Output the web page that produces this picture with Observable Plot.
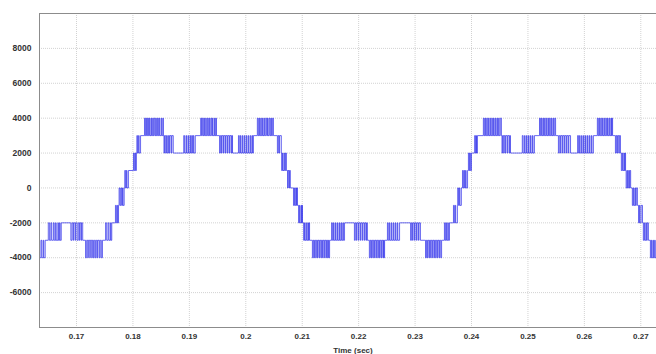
<!DOCTYPE html>
<html><head><meta charset="utf-8">
<script src="https://cdn.jsdelivr.net/npm/d3@7"></script>
<script src="https://cdn.jsdelivr.net/npm/@observablehq/plot@0.6"></script>
<style>
body{margin:0;background:#fff;}
#chart svg{display:block;}
</style>
</head><body><div id="chart"></div>
<script>
// Axis ticks
const xTicks = [0.17, 0.18, 0.19, 0.2, 0.21, 0.22, 0.23, 0.24, 0.25, 0.26, 0.27];
const yTicks = [-6000, -4000, -2000, 0, 2000, 4000, 6000, 8000];
const xLabel = "Time (sec)";

// Output voltage trace (multilevel PWM). Start of trace and level (V).
const startTimeMs = 163.0;
const startLevel = -4000;
const endTimeMs = 273.5;
// Switching bands: [lower level, upper level, switching instants (ms)]
// At each instant the voltage toggles between the two levels of its band.
const bands = [
  [-4000, -3000, [163.25, 163.45, 163.7, 163.85, 164.1, 164.2, 164.45]],
  [-3000, -2000, [165.0, 165.2, 165.45, 165.6, 165.9, 166.05, 166.3, 166.4, 166.7, 166.8, 167.0, 167.1, 167.3]],
  [-3000, -2000, [169.0, 169.2, 169.4, 169.5, 169.75, 169.85, 170.1, 170.3, 170.5, 170.6, 170.8, 170.9, 171.1]],
  [-4000, -3000, [171.6, 171.8, 172.0, 172.1, 172.35, 172.45, 172.7, 172.8, 173.0, 173.15, 173.35, 173.5, 173.7, 173.8, 174.05, 174.2, 174.4, 174.6]],
  [-3000, -2000, [175.15, 175.35, 175.6, 175.75, 176.0, 176.1, 176.25]],
  [-2000, -1000, [176.9, 177.05, 177.2, 177.3, 177.45]],
  [-1000, 0, [177.55, 177.7, 177.85, 178.0, 178.15, 178.25, 178.45]],
  [0, 1000, [178.55, 178.7, 178.85, 178.95, 179.2]],
  [1000, 2000, [180.1, 180.25, 180.4, 180.5, 180.6]],
  [2000, 3000, [180.7, 180.8, 181.0, 181.1, 181.35]],
  [3000, 4000, [182.05, 182.2, 182.35, 182.45, 182.6, 182.75, 182.9, 183.0, 183.2, 183.3, 183.5, 183.6, 183.75, 183.9, 184.05, 184.15, 184.35, 184.5, 184.65, 184.75, 185.0, 185.1, 185.3, 185.4]],
  [2000, 3000, [185.5, 185.6, 185.8, 185.95, 186.1, 186.3, 186.45, 186.55, 186.8, 186.9, 187.15]],
  [2000, 3000, [189.0, 189.15, 189.4, 189.5, 189.75, 189.85, 190.1, 190.2, 190.4, 190.55, 190.7, 190.8, 191.05]],
  [3000, 4000, [192.0, 192.15, 192.3, 192.45, 192.6, 192.7, 192.9, 193.0, 193.2, 193.35, 193.5, 193.6, 193.8, 193.95, 194.1, 194.2, 194.45, 194.55, 194.7, 194.8]],
  [2000, 3000, [195.35, 195.5, 195.7, 195.8, 196.05, 196.15, 196.4, 196.5, 196.75, 196.85, 197.1, 197.2, 197.45, 197.55, 197.65]],
  [2000, 3000, [198.7, 198.85, 199.05, 199.15, 199.4, 199.5, 199.75, 199.85, 200.1, 200.2, 200.45, 200.55, 200.8, 200.9, 201.1, 201.2, 201.35]],
  [3000, 4000, [202.05, 202.2, 202.35, 202.45, 202.65, 202.75, 202.95, 203.05, 203.25, 203.35, 203.55, 203.7, 203.85, 203.95, 204.15, 204.3, 204.45, 204.55, 204.75, 204.9]],
  [2000, 3000, [205.6, 205.75, 205.9, 206.0, 206.3]],
  [1000, 2000, [206.35, 206.5, 206.6, 206.8, 206.9, 207.05, 207.2]],
  [0, 1000, [207.4, 207.5, 207.65, 207.75, 207.9]],
  [-1000, 0, [208.45, 208.6, 208.7, 208.85, 209.0, 209.05, 209.15]],
  [-2000, -1000, [209.35, 209.5, 209.6, 209.8, 209.9, 209.95, 210.05]],
  [-3000, -2000, [210.25, 210.4, 210.5, 210.7, 210.8, 211.0, 211.1, 211.2, 211.3]],
  [-4000, -3000, [211.8, 211.95, 212.1, 212.2, 212.4, 212.5, 212.7, 212.8, 213.0, 213.1, 213.3, 213.4, 213.6, 213.7, 213.9, 214.0, 214.2, 214.3, 214.5, 214.6, 214.7, 214.85]],
  [-3000, -2000, [215.2, 215.35, 215.55, 215.65, 215.9, 216.0, 216.25, 216.35, 216.6, 216.7, 216.9, 217.0, 217.2, 217.3, 217.5]],
  [-3000, -2000, [219.25, 219.4, 219.6, 219.7, 219.95, 220.05, 220.3, 220.4, 220.65, 220.75, 221.0, 221.1, 221.3, 221.4, 221.55]],
  [-4000, -3000, [221.9, 222.05, 222.2, 222.3, 222.5, 222.6, 222.8, 222.9, 223.1, 223.2, 223.4, 223.5, 223.7, 223.8, 224.0, 224.1, 224.3, 224.4, 224.5, 224.6]],
  [-3000, -2000, [225.1, 225.25, 225.45, 225.55, 225.8, 225.9, 226.15, 226.25, 226.5, 226.6, 226.85, 226.95, 227.25]],
  [-3000, -2000, [229.2, 229.35, 229.55, 229.65, 229.9, 230.0, 230.25, 230.35, 230.6, 230.7, 230.95]],
  [-4000, -3000, [231.85, 232.0, 232.15, 232.25, 232.45, 232.55, 232.75, 232.85, 233.05, 233.15, 233.35, 233.45, 233.65, 233.75, 233.95, 234.05, 234.25, 234.35, 234.55, 234.7]],
  [-3000, -2000, [235.2, 235.35, 235.5, 235.6, 235.8, 235.9, 236.1]],
  [-2000, -1000, [236.8, 236.95, 237.1, 237.2, 237.5]],
  [-1000, 0, [237.55, 237.7, 237.85, 237.95, 238.2]],
  [0, 1000, [238.4, 238.55, 238.7, 238.8, 238.95, 239.05, 239.3]],
  [1000, 2000, [239.45, 239.6, 239.7, 239.8, 240.0]],
  [2000, 3000, [240.55, 240.7, 240.85, 240.9, 241.05]],
  [3000, 4000, [242.1, 242.25, 242.4, 242.5, 242.7, 242.8, 243.0, 243.1, 243.3, 243.4, 243.6, 243.7, 243.9, 244.0, 244.2, 244.3, 244.5, 244.6, 244.8, 244.9, 245.1, 245.3]],
  [2000, 3000, [245.4, 245.5, 245.7, 245.8, 246.0, 246.1, 246.35, 246.45, 246.7, 246.8, 246.9]],
  [2000, 3000, [249.0, 249.15, 249.4, 249.5, 249.75, 249.85, 250.1, 250.2, 250.45, 250.55, 250.8, 250.9, 251.15]],
  [3000, 4000, [252.05, 252.2, 252.35, 252.45, 252.65, 252.75, 252.95, 253.05, 253.25, 253.35, 253.55, 253.65, 253.85, 253.95, 254.15, 254.25, 254.45, 254.55, 254.75, 254.9]],
  [2000, 3000, [255.4, 255.55, 255.75, 255.85, 256.1, 256.2, 256.45, 256.55, 256.8, 256.9, 257.15, 257.25, 257.55]],
  [2000, 3000, [258.8, 258.95, 259.15, 259.25, 259.5, 259.6, 259.85, 259.95, 260.2, 260.3, 260.55, 260.65, 260.9, 261.0, 261.25, 261.35, 261.6]],
  [3000, 4000, [262.3, 262.45, 262.6, 262.7, 262.9, 263.0, 263.2, 263.3, 263.5, 263.6, 263.8, 263.9, 264.1, 264.2, 264.4, 264.5, 264.7, 264.8, 264.9, 265.0]],
  [2000, 3000, [265.5, 265.65, 265.8, 265.9, 266.1, 266.2, 266.4]],
  [1000, 2000, [266.55, 266.7, 266.8, 267.0, 267.1, 267.2, 267.3]],
  [0, 1000, [267.4, 267.55, 267.65, 267.85, 267.95, 268.05, 268.2]],
  [-1000, 0, [268.5, 268.65, 268.75, 268.95, 269.05, 269.2, 269.4]],
  [-2000, -1000, [269.6, 269.75, 269.85, 270.05, 270.3]],
  [-3000, -2000, [270.45, 270.6, 270.7, 270.9, 271.0, 271.15, 271.35]],
  [-4000, -3000, [271.7, 271.85, 271.95, 272.15, 272.25, 272.45, 272.55, 272.75, 272.9]]
];

// Decode the bands into a step trace [time (s), voltage]
let level = startLevel;
const trace = [{t: startTimeMs / 1000, v: level}];
for (const [lo, hi, times] of bands) {
  for (const tm of times) {
    level = (level === lo) ? hi : lo;
    trace.push({t: tm / 1000, v: level});
  }
}
trace.push({t: endTimeMs / 1000, v: level});

const font = "'Liberation Sans', Arial, sans-serif";
const chart = Plot.plot({
  width: 656,
  height: 354,
  marginLeft: 39,
  marginRight: 0,
  marginTop: 13,
  marginBottom: 27,
  style: {fontFamily: font, background: "#fff", overflow: "visible"},
  x: {domain: [0.163443, 0.272782], ticks: xTicks},
  y: {domain: [-8000, 10000], ticks: yTicks},
  marks: [
    Plot.gridX(xTicks, {stroke: "#d2d2d2", strokeOpacity: 1, strokeDasharray: "1,1"}),
    Plot.gridY(yTicks, {stroke: "#d2d2d2", strokeOpacity: 1, strokeDasharray: "1,1"}),
    Plot.line(trace, {x: "t", y: "v", curve: "step-after", stroke: "#3030ea", strokeWidth: 0.9, strokeOpacity: 0.8, clip: true}),
    Plot.ruleY([10000], {stroke: "#8c8c8c", strokeWidth: 1}),
    Plot.ruleY([-8000], {stroke: "#8c8c8c", strokeWidth: 1}),
    Plot.ruleX([0.163443], {stroke: "#8c8c8c", strokeWidth: 1}),
    Plot.axisX(xTicks, {tickSize: 0, tickPadding: 6, label: null, tickFormat: d => String(d), fontSize: 8, fontWeight: "bold", fill: "#333"}),
    Plot.axisY(yTicks, {tickSize: 0, tickPadding: 8, label: null, tickFormat: d => String(d), fontSize: 8.5, fontWeight: "bold", fill: "#333"}),
    Plot.text([xLabel], {frameAnchor: "bottom", dy: 23, dx: 5, text: d => d, fontSize: 8, fontWeight: "bold", fill: "#333", lineAnchor: "middle"})
  ]
});
document.getElementById("chart").appendChild(chart);
</script>
</body></html>
